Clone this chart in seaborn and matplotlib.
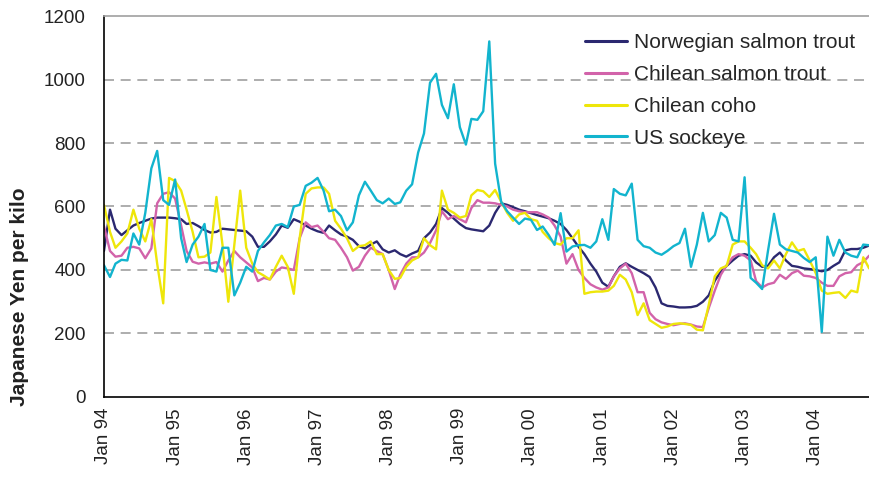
import pandas as pd
import numpy as np
import matplotlib
matplotlib.use('Agg')
import matplotlib.pyplot as plt
import seaborn as sns

# monthly prices, Jan 1994 - Oct 2004 (Japanese Yen per kilo)
norwegian = [
    460, 590, 530, 510, 525, 540, 548, 555, 562, 565, 565, 565,   # 1994
    563, 560, 545, 548, 538, 526, 518, 520, 530, 528, 526, 524,   # 1995
    522, 505, 473, 473, 490, 512, 540, 533, 560, 552, 540, 530,   # 1996
    522, 517, 540, 525, 512, 505, 495, 475, 468, 480, 490, 465,   # 1997
    455, 462, 450, 442, 452, 460, 500, 518, 545, 595, 580, 562,   # 1998
    545, 532, 528, 525, 522, 540, 580, 610, 605, 598, 590, 585,   # 1999
    579, 573, 568, 563, 555, 545, 526, 500, 473, 450, 420, 395,   # 2000
    360, 347, 380, 410, 421, 410, 400, 390, 378, 345, 295, 287,   # 2001
    285, 282, 282, 283, 287, 300, 320, 366, 395, 413, 430, 445,   # 2002
    450, 445, 424, 410, 413, 440, 455, 430, 413, 410, 405, 403,   # 2003
    400, 396, 400, 413, 424, 462, 466, 466, 470, 477,             # 2004
]
chilean_trout = [
    538, 460, 442, 445, 470, 473, 468, 437, 468, 610, 640, 645,
    625, 540, 460, 426, 420, 424, 420, 425, 395, 430, 460, 440,
    424, 408, 365, 375, 370, 395, 408, 405, 400, 500, 550, 535,
    540, 520, 500, 495, 470, 440, 398, 410, 445, 470, 460, 450,
    400, 340, 385, 420, 440, 440, 455, 485, 525, 585, 560, 570,
    560, 550, 595, 620, 612, 612, 610, 605, 600, 590, 585, 582,
    582, 582, 575, 565, 540, 505, 420, 450, 400, 375, 355, 345,
    338, 345, 380, 405, 420, 390, 330, 330, 265, 245, 235, 230,
    226, 230, 232, 228, 222, 220, 280, 335, 385, 415, 440, 450,
    445, 430, 365, 345, 355, 360, 385, 372, 390, 398, 382, 380,
    375, 360, 350, 350, 380, 390, 393, 415, 425, 445,
]
chilean_coho = [
    605, 520, 470, 490, 515, 590, 530, 490, 560, 420, 295, 690,
    680, 650, 590, 520, 440, 442, 455, 630, 480, 300, 480, 650,
    470, 420, 393, 382, 370, 410, 445, 410, 325, 500, 640, 657,
    660, 660, 640, 555, 530, 500, 460, 475, 478, 490, 450, 450,
    400, 372, 375, 410, 430, 440, 500, 478, 465, 650, 590, 580,
    565, 570, 635, 652, 648, 630, 652, 615, 580, 555, 575, 580,
    560, 555, 520, 500, 485, 480, 500, 500, 525, 325, 330, 332,
    332, 335, 350, 385, 370, 330, 258, 295, 242, 230, 218, 222,
    230, 232, 230, 227, 212, 210, 290, 380, 405, 413, 480, 490,
    490, 470, 450, 415, 405, 430, 405, 450, 487, 460, 466, 430,
    390, 335, 325, 328, 330, 312, 335, 330, 440, 405,
]
us_sockeye = [
    415, 378, 420, 432, 430, 515, 480, 580, 720, 775, 620, 605,
    685, 500, 425, 480, 505, 545, 400, 395, 470, 470, 320, 360,
    410, 395, 460, 487, 510, 540, 545, 535, 600, 605, 665, 675,
    690, 650, 585, 590, 570, 525, 550, 635, 678, 650, 620, 610,
    625, 608, 613, 650, 670, 770, 830, 990, 1018, 920, 878, 985,
    850, 795, 876, 873, 900, 1120, 735, 615, 585, 565, 545, 562,
    558, 526, 537, 510, 479, 579, 458, 474, 478, 479, 470, 490,
    560, 495, 655, 640, 635, 672, 495, 475, 470, 455, 448, 460,
    475, 485, 530, 410, 480, 580, 490, 510, 580, 565, 495, 490,
    692, 375, 360, 340, 460, 577, 480, 465, 460, 455, 438, 425,
    440, 205, 505, 445, 495, 455, 445, 440, 480, 478,
]

series_names = ['Norwegian salmon trout', 'Chilean salmon trout',
                'Chilean coho', 'US sockeye']
colors = ['#2B2870', '#D263AA', '#EEE60A', '#12B4CE']
year_labels = ['Jan 94', 'Jan 95', 'Jan 96', 'Jan 97', 'Jan 98', 'Jan 99',
               'Jan 00', 'Jan 01', 'Jan 02', 'Jan 03', 'Jan 04']

dates = pd.date_range('1994-01-01', periods=len(norwegian), freq='MS')
df = pd.DataFrame({'date': dates,
                   series_names[0]: norwegian,
                   series_names[1]: chilean_trout,
                   series_names[2]: chilean_coho,
                   series_names[3]: us_sockeye})
long_df = df.melt(id_vars='date', var_name='serie', value_name='yen')

sns.set_style('white')
plt.rcParams['font.family'] = ['Liberation Sans', 'DejaVu Sans']

fig = plt.figure(figsize=(8.7, 4.78), dpi=100)
ax = fig.add_axes([0.1195, 0.1695, 0.8795, 0.797])

sns.lineplot(data=long_df, x='date', y='yen', hue='serie',
             hue_order=series_names, palette=dict(zip(series_names, colors)),
             linewidth=1.7, ax=ax)

ax.set_ylim(0, 1200)
ax.set_yticks(range(0, 1201, 200))
ax.set_xlim(dates[0], dates[-1])
tick_dates = pd.date_range('1994-01-01', '2004-01-01', freq='YS')
ax.set_xticks(tick_dates)
ax.set_xticklabels(year_labels, rotation=90)

for v in range(200, 1001, 200):
    ax.axhline(v, color='#A0A0A0', lw=1.2, ls=(0, (6, 4)), zorder=0)

for s in ['left', 'bottom']:
    ax.spines[s].set_color('black')
    ax.spines[s].set_linewidth(1.2)
ax.spines['right'].set_visible(False)
ax.spines['top'].set_color('#A0A0A0')
ax.spines['top'].set_linewidth(1.2)

ax.tick_params(axis='both', which='major', direction='out', length=5,
               width=1.0, color='black', labelsize=13.5, labelcolor='#222222')
ax.tick_params(axis='y', pad=8)
ax.tick_params(axis='x', pad=3)

ax.set_xlabel('')
ax.set_ylabel('Japanese Yen per kilo', fontsize=15, fontweight='bold',
              color='#222222')
ax.yaxis.set_label_coords(-0.098, 0.262)

ax.legend(loc='upper left', bbox_to_anchor=(585 / 870, 1 - 33 / 478),
          bbox_transform=fig.transFigure, frameon=False, fontsize=15,
          handlelength=2.0, handletextpad=0.35, labelspacing=0.62,
          borderpad=0, borderaxespad=0)
for line in ax.get_legend().get_lines():
    line.set_linewidth(2.2)

fig.savefig('out.png', dpi=100)
